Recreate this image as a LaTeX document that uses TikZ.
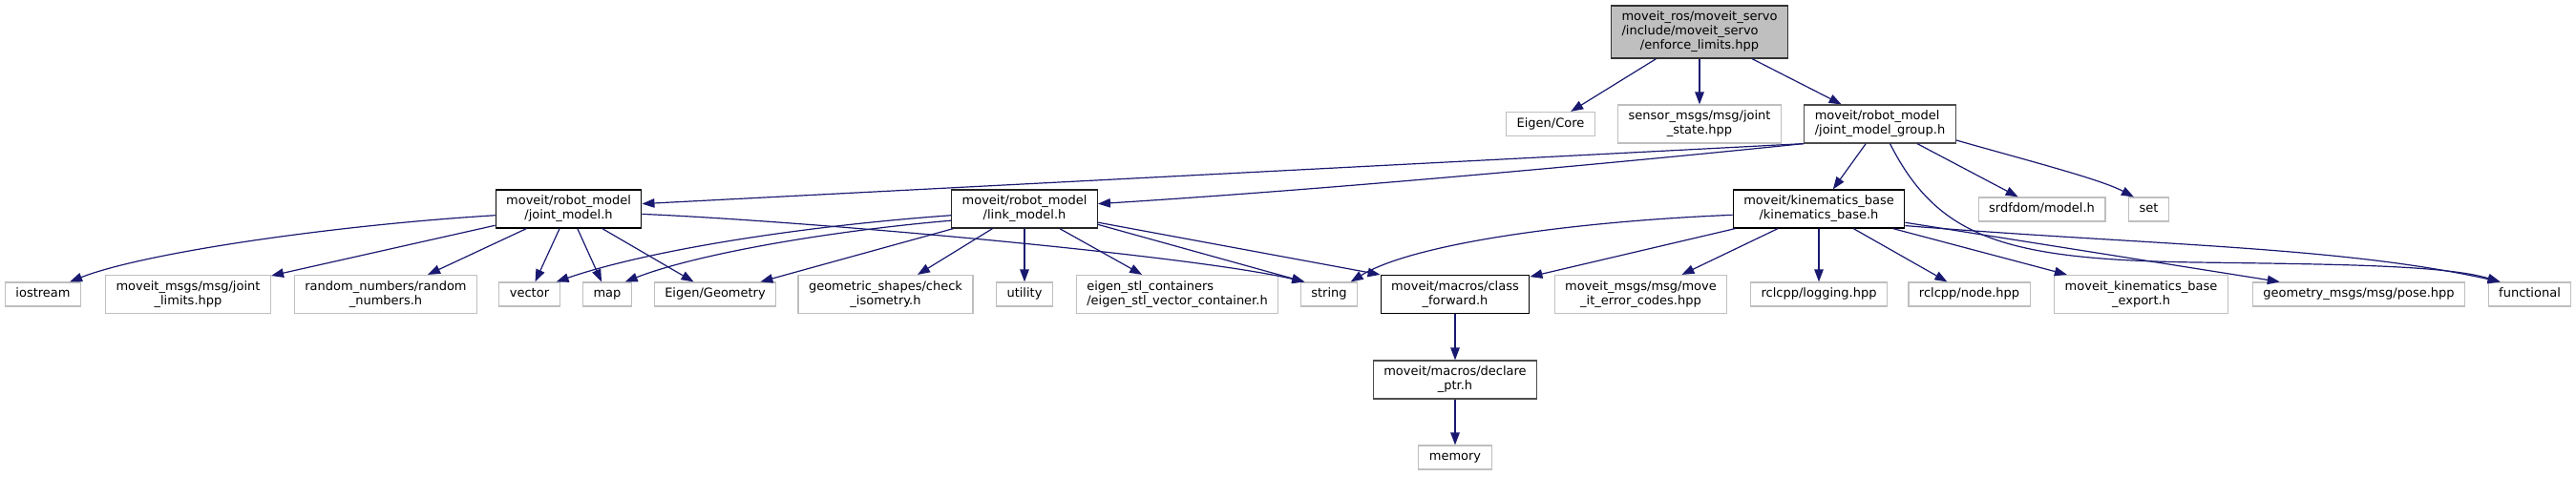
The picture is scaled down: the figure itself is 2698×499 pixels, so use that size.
\documentclass[tikz,border=0pt]{standalone}
\usepackage{fontspec}
\setmainfont{DejaVu Sans}
\usetikzlibrary{arrows.meta}
\definecolor{edgeblue}{HTML}{191970}
\definecolor{extgray}{HTML}{BFBFBF}
\definecolor{docgray}{HTML}{4D4D4D}
\definecolor{mainfill}{HTML}{BFBFBF}
\newcommand{\twol}[2]{\begin{tabular}{@{}l@{}}#1\\\multicolumn{1}{@{}c@{}}{#2}\end{tabular}}
\begin{document}
\begin{tikzpicture}[x=1pt,y=-1pt,
  font=\fontsize{13}{15}\selectfont,
  hdr/.style={rectangle,inner xsep=11pt,inner ysep=5pt,line width=1.2pt},
  ext/.style={hdr,draw=extgray},
  doc/.style={hdr,draw=black},
  oneline/.style={text height=10.5pt,text depth=4.5pt},
  dep/.style={draw=edgeblue,line width=1.2pt,-{Triangle[length=13pt,width=9.5pt]}}]
\useasboundingbox (0,0) rectangle (2698,499);
\node[doc,fill=mainfill,draw=black!80] (main) at (1780,33.5) {\begin{tabular}{@{}l@{}}moveit\_ros/moveit\_servo\\/include/moveit\_servo\\\multicolumn{1}{@{}c@{}}{/enforce\_limits.hpp}\end{tabular}};
\node[ext,oneline] (ecore) at (1624,130) {Eigen/Core};
\node[ext] (sensor) at (1780,130) {\twol{sensor\_msgs/msg/joint}{\_state.hpp}};
\node[doc,draw=docgray] (jmg) at (1969,130) {\twol{moveit/robot\_model}{/joint\_model\_group.h}};
\node[doc] (jm) at (595.5,219) {\twol{moveit/robot\_model}{/joint\_model.h}};
\node[doc,draw=black!85] (lm) at (1073,219) {\twol{moveit/robot\_model}{/link\_model.h}};
\node[doc] (kb) at (1905,219) {\twol{moveit/kinematics\_base}{/kinematics\_base.h}};
\node[ext,oneline] (srdf) at (2138.5,219.5) {srdfdom/model.h};
\node[ext,oneline] (stdset) at (2250.5,219.5) {set};
\node[ext,oneline] (iostream) at (45,308.5) {iostream};
\node[ext] (jlim) at (197,308.5) {\twol{moveit\_msgs/msg/joint}{\_limits.hpp}};
\node[ext] (rnd) at (404,308.5) {\twol{random\_numbers/random}{\_numbers.h}};
\node[ext,oneline] (vector) at (554.5,308.5) {vector};
\node[ext,oneline] (map) at (636,308.5) {map};
\node[ext,oneline] (egeom) at (749,308.5) {Eigen/Geometry};
\node[ext] (gshapes) at (927.5,308.5) {\twol{geometric\_shapes/check}{\_isometry.h}};
\node[ext,oneline] (utility) at (1073,308.5) {utility};
\node[ext] (estl) at (1233,308.5) {\twol{eigen\_stl\_containers}{/eigen\_stl\_vector\_container.h}};
\node[ext,oneline] (string) at (1392,308.5) {string};
\node[doc] (clsfwd) at (1524,308.5) {\twol{moveit/macros/class}{\_forward.h}};
\node[ext] (moveerr) at (1718.5,308.5) {\twol{moveit\_msgs/msg/move}{\_it\_error\_codes.hpp}};
\node[ext,oneline] (rlog) at (1905,308.5) {rclcpp/logging.hpp};
\node[ext,oneline] (rnode) at (2062.5,308.5) {rclcpp/node.hpp};
\node[ext] (kbexport) at (2242.5,308.5) {\twol{moveit\_kinematics\_base}{\_export.h}};
\node[ext,oneline] (pose) at (2470.5,308.5) {geometry\_msgs/msg/pose.hpp};
\node[ext,oneline] (functional) at (2649.5,308.5) {functional};
\node[doc,draw=docgray] (declptr) at (1524,398) {\twol{moveit/macros/declare}{\_ptr.h}};
\node[ext,oneline] (memory) at (1524,479.5) {memory};
\draw[dep] (main) -- (ecore);
\draw[dep] (main) -- (sensor);
\draw[dep] (main) -- (jmg);
\draw[dep] (jmg.south west) -- (jm.4);
\draw[dep] (jmg.south west) .. controls (1700,170) and (1400,198) .. (lm.4);
\draw[dep] (jmg) -- (kb);
\draw[dep] (jmg) -- (srdf);
\draw[dep] (jmg.-12) .. controls (2130,170) and (2200,188) .. (stdset.140);
\draw[dep] (jmg.-63) .. controls (2030,250) and (2100,272) .. (2300,275) .. controls (2450,277) and (2560,278) .. (functional.157);
\draw[dep] (jm.185) .. controls (350,236) and (150,265) .. (iostream.25);
\draw[dep] (jm) -- (jlim);
\draw[dep] (jm) -- (rnd);
\draw[dep] (jm) -- (vector);
\draw[dep] (jm) -- (map);
\draw[dep] (jm) -- (egeom);
\draw[dep] (jm.-4) .. controls (850,232) and (1250,268) .. (string.153);
\draw[dep] (lm.185) .. controls (840,237) and (680,262) .. (vector.25);
\draw[dep] (lm.189) .. controls (870,242) and (730,266) .. (map.35);
\draw[dep] (lm) -- (egeom);
\draw[dep] (lm) -- (gshapes);
\draw[dep] (lm) -- (utility);
\draw[dep] (lm) -- (estl);
\draw[dep] (lm.-12) -- (string.153);
\draw[dep] (lm) -- (clsfwd.north west);
\draw[dep] (kb.184) .. controls (1650,232) and (1480,255) .. (string.30);
\draw[dep] (kb) -- (clsfwd);
\draw[dep] (kb) -- (moveerr);
\draw[dep] (kb) -- (rlog);
\draw[dep] (kb) -- (rnode);
\draw[dep] (kb) -- (kbexport);
\draw[dep] (kb) -- (pose);
\draw[dep] (kb.-11) .. controls (2250,257) and (2450,258) .. (functional.157);
\draw[dep] (clsfwd) -- (declptr);
\draw[dep] (declptr) -- (memory);
\end{tikzpicture}
\end{document}
